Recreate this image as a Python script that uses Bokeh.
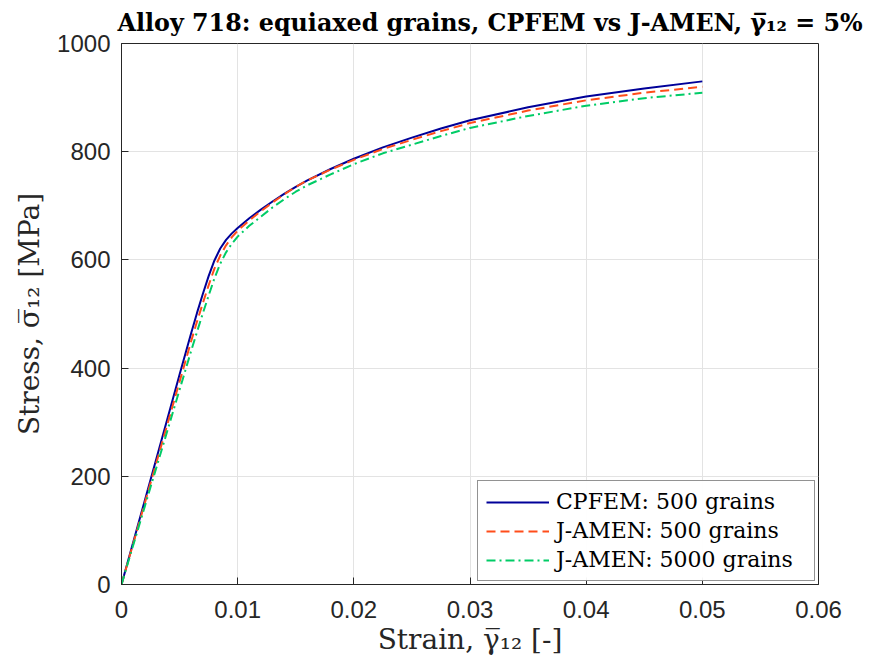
from bokeh.plotting import figure
from bokeh.models import Range1d, Legend, LegendItem, FixedTicker
from bokeh.embed import file_html
from bokeh.resources import INLINE

strain = [0, 0.002, 0.004, 0.005, 0.006, 0.0065, 0.007, 0.0075, 0.008, 0.0085, 0.009, 0.0095,
          0.010, 0.011, 0.012, 0.013, 0.014, 0.015, 0.016, 0.018, 0.020, 0.0225, 0.025, 0.0275,
          0.030, 0.035, 0.040, 0.045, 0.050]
cpfem_500 = [0, 155, 310, 388, 465, 502, 537, 570, 599, 621, 637, 649,
             659, 677, 693, 708, 722, 735, 747, 768, 787, 808, 826, 843,
             858, 882, 902, 917, 930]
jamen_500 = [0, 150, 300, 375, 450, 486, 520, 553, 584, 608, 627, 642,
             654, 673, 690, 706, 721, 735, 747, 767, 785, 805, 822, 838,
             853, 876, 895, 909, 920]
jamen_5000 = [0, 144, 288, 360, 432, 467, 501, 534, 566, 593, 614, 630,
              643, 663, 680, 697, 712, 726, 738, 758, 777, 797, 813, 829,
              844, 866, 885, 899, 909]

x_ticks = [0, 0.01, 0.02, 0.03, 0.04, 0.05, 0.06]
y_ticks = [0, 200, 400, 600, 800, 1000]
x_tick_labels = {0: "0", 0.01: "0.01", 0.02: "0.02", 0.03: "0.03", 0.04: "0.04", 0.05: "0.05", 0.06: "0.06"}

title = "Alloy 718: equiaxed grains, CPFEM vs J-AMEN, \u03b3\u0305\u2081\u2082 = 5%"
xlabel = "Strain, \u03b3\u0305\u2081\u2082 [-]"
ylabel = "Stress, \u03c3\u0305\u2081\u2082 [MPa]"

axc = "#262626"
p = figure(width=870, height=658, output_backend="svg", toolbar_location=None,
           x_range=Range1d(0, 0.06), y_range=Range1d(0, 1000),
           min_border_left=121, min_border_right=52, min_border_top=43, min_border_bottom=74)
p.title.text = title
p.title.text_font = "DejaVu Serif"
p.title.text_font_style = "bold"
p.title.text_font_size = "23.8px"
p.title.align = "left"
p.title.offset = -4
p.title.standoff = 13
p.title.text_color = "black"

for ax in (p.xaxis[0], p.yaxis[0]):
    ax.major_tick_in = 7
    ax.major_tick_out = 0
    ax.minor_tick_in = 0
    ax.minor_tick_out = 0
    ax.axis_line_color = axc
    ax.major_tick_line_color = axc
    ax.major_label_text_font = "Liberation Sans"
    ax.major_label_text_font_size = "24px"
    ax.major_label_text_color = axc
    ax.axis_label_text_font = "DejaVu Serif"
    ax.axis_label_text_font_style = "normal"
    ax.axis_label_text_font_size = "28px"
    ax.axis_label_text_color = axc

p.xaxis[0].ticker = FixedTicker(ticks=x_ticks)
p.xaxis[0].major_label_overrides = x_tick_labels
p.yaxis[0].ticker = FixedTicker(ticks=y_ticks)
p.xaxis[0].axis_label = xlabel
p.yaxis[0].axis_label = ylabel
p.xaxis[0].major_label_standoff = 16
p.yaxis[0].major_label_standoff = 11
p.xaxis[0].axis_label_standoff = 2
p.yaxis[0].axis_label_standoff = 8

p.xgrid.ticker = FixedTicker(ticks=x_ticks)
p.ygrid.ticker = FixedTicker(ticks=y_ticks)
p.grid.grid_line_color = "#e3e3e3"
p.grid.grid_line_width = 1
p.outline_line_color = axc
p.outline_line_width = 1

r1 = p.line(strain, cpfem_500, line_color="#000099", line_width=2)
r2 = p.line(strain, jamen_500, line_color="#ff4d1a", line_width=2, line_dash="9 5")
r3 = p.line(strain, jamen_5000, line_color="#00cc66", line_width=2, line_dash="9 4 2 4")

legend = Legend(items=[LegendItem(label="CPFEM: 500 grains", renderers=[r1]),
                       LegendItem(label="J-AMEN: 500 grains", renderers=[r2]),
                       LegendItem(label="J-AMEN: 5000 grains", renderers=[r3])],
                location="bottom_right")
legend.label_text_font = "DejaVu Serif"
legend.label_text_font_size = "22px"
legend.label_text_color = "black"
legend.border_line_color = axc
legend.border_line_width = 1
legend.glyph_width = 63
legend.glyph_height = 24
legend.label_height = 24
legend.label_width = 250
legend.spacing = 4
legend.padding = 8
legend.margin = 3
legend.label_standoff = 7
p.add_layout(legend)

open("out.html", "w").write(file_html(p, INLINE))
